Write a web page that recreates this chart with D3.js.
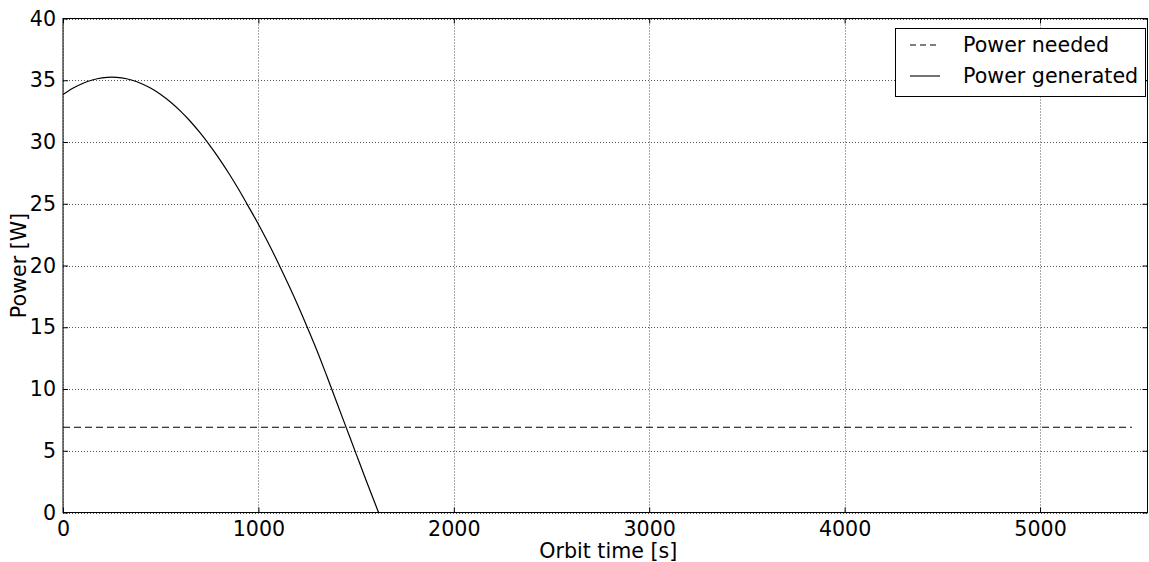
<!DOCTYPE html>
<html>
<head>
<meta charset="utf-8">
<script src="https://cdn.jsdelivr.net/npm/d3@7"></script>
<style>
  html, body { margin: 0; padding: 0; background: #fff; }
  svg { display: block; }
  text { font-family: "DejaVu Sans", sans-serif; fill: #000; }
</style>
</head>
<body>
<svg id="chart" width="1149" height="562"></svg>
<script>
// ---- Data ----
const genTime  = [0, 50, 100, 150, 200, 250, 300, 350, 400, 450, 500, 550, 600, 650, 700, 750, 800, 850, 900, 950, 1000,
                  1050, 1100, 1150, 1200, 1250, 1300, 1350, 1400, 1450, 1500, 1550, 1600, 1615, 2000, 3000, 4000, 5000, 5550];
const genPower = [33.85, 34.35, 34.74, 35.02, 35.19, 35.25, 35.19, 35.02, 34.74, 34.35, 33.85, 33.24, 32.52, 31.70, 30.77, 29.75, 28.64, 27.43, 26.13, 24.75, 23.34,
                  21.84, 20.25, 18.58, 16.84, 15.0, 13.1, 11.05, 8.95, 6.85, 4.75, 2.65, 0.6, 0, 0, 0, 0, 0, 0];
const neededTime  = [0, 5470];
const neededPower = [6.9, 6.9];
const xTicks = [0, 1000, 2000, 3000, 4000, 5000];
const yTicks = [0, 5, 10, 15, 20, 25, 30, 35, 40];
const xDomain = [0, 5550];
const yDomain = [0, 40];
const legendLabels = ["Power needed", "Power generated"];
const xLabel = "Orbit time [s]";
const yLabel = "Power [W]";

// ---- Layout ----
const L = 63, R = 1147.5, T = 18.5, B = 512.5;
const svg = d3.select("#chart");
const x = d3.scaleLinear().domain(xDomain).range([L, R]);
const y = d3.scaleLinear().domain(yDomain).range([B, T]);
const FS = 20.6;

// grid
const grid = svg.append("g");
grid.selectAll(".gx").data(xTicks).join("line")
  .attr("x1", d => Math.round(x(d)) + 0.5).attr("x2", d => Math.round(x(d)) + 0.5)
  .attr("y1", T).attr("y2", B)
  .attr("stroke", "#555").attr("stroke-width", 1).attr("stroke-dasharray", "1,2");
grid.selectAll(".gy").data(yTicks).join("line")
  .attr("y1", d => Math.round(y(d)) + 0.5).attr("y2", d => Math.round(y(d)) + 0.5)
  .attr("x1", L).attr("x2", R)
  .attr("stroke", "#555").attr("stroke-width", 1).attr("stroke-dasharray", "1,2");

// lines
const pts = genTime.map((t, i) => [t, genPower[i]]);
const firstZero = genPower.findIndex(v => v === 0);
const curvePart = pts.slice(0, firstZero + 1);
const flatPart = pts.slice(firstZero);
const lineMono = d3.line().x(d => x(d[0])).y(d => y(d[1])).curve(d3.curveMonotoneX);
const lineLin = d3.line().x(d => x(d[0])).y(d => y(d[1]));
svg.append("path").attr("d", lineMono(curvePart)).attr("fill", "none").attr("stroke", "#000").attr("stroke-width", 1.2);
svg.append("path").attr("d", lineLin(flatPart)).attr("fill", "none").attr("stroke", "#000").attr("stroke-width", 1.2);

const need = neededTime.map((t, i) => [t, neededPower[i]]);
svg.append("path").attr("d", lineLin(need)).attr("fill", "none").attr("stroke", "#000")
  .attr("stroke-width", 1.1).attr("stroke-dasharray", "7,4");

// axes (ticks inward, on all four sides)
const axB = d3.axisBottom(x).tickValues(xTicks).tickSize(-5).tickPadding(9).tickFormat(d3.format("d"));
const axL = d3.axisLeft(y).tickValues(yTicks).tickSize(-5).tickPadding(7).tickFormat(d3.format("d"));
const axT = d3.axisTop(x).tickValues(xTicks).tickSize(-5).tickFormat("");
const axR = d3.axisRight(y).tickValues(yTicks).tickSize(-5).tickFormat("");
function styleAxis(g) {
  g.select(".domain").remove();
  g.selectAll("line").attr("stroke", "#000");
  g.selectAll("text").style("font-family", "DejaVu Sans").style("font-size", FS + "px").attr("fill", "#000");
}
svg.append("g").attr("transform", `translate(0,${B})`).call(axB).call(styleAxis);
svg.append("g").attr("transform", `translate(${L},0)`).call(axL).call(styleAxis);
svg.append("g").attr("transform", `translate(0,${T})`).call(axT).call(styleAxis);
svg.append("g").attr("transform", `translate(${R},0)`).call(axR).call(styleAxis);

// frame
svg.append("rect").attr("x", L).attr("y", T).attr("width", R - L).attr("height", B - T)
  .attr("fill", "none").attr("stroke", "#000").attr("stroke-width", 1);

// labels
svg.append("text").attr("x", (L + R) / 2 + 3).attr("y", 558).attr("text-anchor", "middle")
  .style("font-size", FS + "px").text(xLabel);
svg.append("text").attr("transform", `translate(26,${(T + B) / 2}) rotate(-90)`).attr("text-anchor", "middle")
  .style("font-size", FS + "px").text(yLabel);

// legend
const lg = svg.append("g");
lg.append("rect").attr("x", 895.5).attr("y", 28.5).attr("width", 250).attr("height", 68)
  .attr("fill", "#fff").attr("stroke", "#000").attr("stroke-width", 1);
const ly = [45, 76];
lg.selectAll(".li").data(legendLabels).join("line")
  .attr("x1", 910).attr("x2", 940).attr("y1", (d, i) => ly[i]).attr("y2", (d, i) => ly[i])
  .attr("stroke", "#000").attr("stroke-width", 1.1)
  .attr("stroke-dasharray", (d, i) => i === 0 ? "6,4" : null);
lg.selectAll(".lt").data(legendLabels).join("text")
  .attr("x", 963).attr("y", (d, i) => ly[i] + 7)
  .style("font-size", FS + "px").text(d => d);
</script>
</body>
</html>
